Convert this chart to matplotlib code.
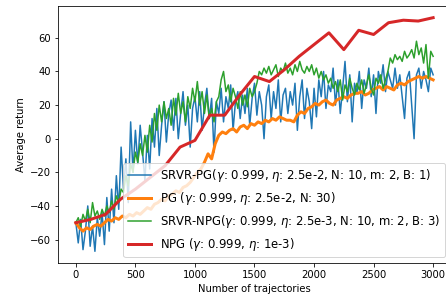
import numpy as np
import matplotlib
matplotlib.use("Agg")
import matplotlib.pyplot as plt

# SRVR-PG (step 20 trajectories)
srvr_pg = [
    -50, -62, -48, -66, -55, -40, -64, -52, -67, -47,
    -58, -44, -63, -35, -55, -30, -50, -22, -42, -5,
    -30, -12, -38, 10, -20, 5, -15, 8, -8, -25,
    2, -18, 12, -5, 18, -10, 8, 22, -2, 15,
    23, 5, 24, 0, 15, 28, 8, 20, -5, 18,
    25, 10, 28, 5, 20, 30, 12, 24, -8, 22,
    15, 30, 10, 25, 18, 32, 5, 22, 28, 12,
    26, 15, 30, 8, 24, 33, 14, 28, 20, 0,
    25, 32, 12, 28, 18, 35, 10, 26, 30, 15,
    28, 20, 33, 5, 25, 35, 12, 30, 22, 6,
    30, 13, 35, 25, 40, 18, 32, 28, 42, 20,
    35, 15, 30, 46, 22, 38, 10, 33, 27, 40,
    18, 35, 30, 42, 25, 38, 15, 40, 33, 44,
    28, 40, 35, 30, 42, 30, 38, 25, 12, 36,
    40, 20, 0, 38, 42, 30, 40, 35, 28, 42,
    38,
]
# SRVR-NPG (step 20 trajectories)
srvr_npg = [
    -50, -47, -52, -45, -49, -42, -50, -38, -46, -43,
    -48, -42, -46, -40, -44, -37, -42, -34, -38, -30,
    -32, -22, -28, -15, -20, -8, -14, -3, -10, 2,
    -8, 8, -2, 15, 5, 20, 10, 22, 12, 18,
    8, 24, 14, 27, 15, 22, 10, 25, 18, 30,
    22, 34, 20, 28, 15, 26, 12, 18, 10, 22,
    25, 35, 40, 28, 32, 22, 30, 25, 18, 28,
    20, 26, 19, 30, 25, 28, 33, 40, 38, 42,
    39, 43, 38, 41, 44, 37, 42, 40, 45, 39,
    42, 38, 44, 40, 46, 41, 39, 43, 40, 44,
    38, 42, 36, 40, 35, 38, 33, 36, 30, 34,
    28, 35, 23, 32, 28, 36, 30, 26, 33, 29,
    35, 27, 32, 38, 30, 26, 36, 33, 38, 30,
    35, 40, 48, 45, 50, 47, 49, 46, 52, 48,
    50, 53, 48, 58, 50, 54, 45, 56, 36, 52,
    49,
]
# PG (step 30 trajectories)
pg = [
    -50, -53, -55, -53, -54, -52, -51, -52, -50, -48,
    -49, -47, -48, -46, -47, -45, -46, -44, -45, -43,
    -41, -42, -39, -38, -36, -37, -34, -33, -31, -32,
    -29, -28, -26, -23, -20, -18, -14, -9, -12, -3,
    2, 4, 3, 5, 6, 4, 7, 8, 6, 9,
    8, 10, 9, 11, 10, 12, 11, 13, 12, 11,
    11, 10, 14, 16, 15, 18, 19, 21, 20, 22,
    23, 21, 20, 23, 24, 25, 24, 26, 27, 27,
    28, 26, 27, 29, 30, 31, 29, 31, 30, 29,
    32, 33, 32, 34, 35, 36, 37, 36, 37, 36,
    35,
]
# NPG (step 125 trajectories)
npg = [-50, -48, -45, -36, -30, -23, -16, -5, -1, 14, 14, 26, 37,
       34, 41, 49, 56, 63, 53, 64.5, 62, 69, 70.5, 70, 72]

x_srvr = np.arange(len(srvr_pg)) * 20
x_npg_s = np.arange(len(srvr_npg)) * 20
x_pg = np.arange(len(pg)) * 30
x_npg = np.arange(len(npg)) * 125

labels = [
    'SRVR-PG($\\gamma$: 0.999, $\\eta$: 2.5e-2, N: 10, m: 2, B: 1)',
    'PG ($\\gamma$: 0.999, $\\eta$: 2.5e-2, N: 30)',
    'SRVR-NPG($\\gamma$: 0.999, $\\eta$: 2.5e-3, N: 10, m: 2, B: 3)',
    'NPG ($\\gamma$: 0.999, $\\eta$: 1e-3)',
]

fig = plt.figure(figsize=(446 / 72, 297 / 72), dpi=72)
ax = fig.add_axes([58 / 446, 34 / 297, (451 - 58) / 446, 257 / 297])
ax.plot(x_srvr, srvr_pg, color='tab:blue', lw=1.5, label=labels[0])
ax.plot(x_pg, pg, color='tab:orange', lw=3, label=labels[1])
ax.plot(x_npg_s, srvr_npg, color='tab:green', lw=1.5, label=labels[2])
ax.plot(x_npg, npg, color='tab:red', lw=3, label=labels[3])

ax.set_xlabel('Number of trajectories')
ax.set_ylabel('Average return')
ax.set_yticks([-60, -40, -20, 0, 20, 40, 60])
ax.set_xticks([0, 500, 1000, 1500, 2000, 2500, 3000])
ax.legend(loc='lower right', fontsize=11.6)
fig.savefig('out.png', dpi=72)
